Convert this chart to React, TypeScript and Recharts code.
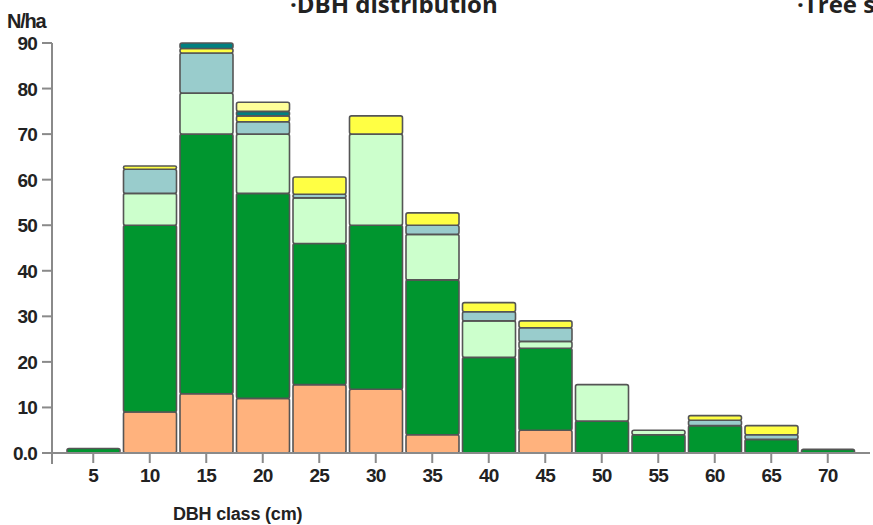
import React from "react";
import { BarChart, Bar, XAxis, YAxis } from "recharts";

const categories = ["5", "10", "15", "20", "25", "30", "35", "40", "45", "50", "55", "60", "65", "70"];
const peach = [0, 9, 13, 12, 15, 14, 4, 0, 5, 0, 0, 0, 0, 0];
const darkGreen = [1, 41, 57, 45, 31, 36, 34, 21, 18, 7, 4, 6, 3, 0.8];
const lightGreen = [0, 7, 9, 13, 10, 20, 10, 8, 1.5, 8, 1, 0, 0, 0];
const lightBlue = [0, 5.3, 8.8, 2.7, 0.8, 0, 2, 2, 3, 0, 0, 1.2, 1, 0];
const yellow = [0, 0.7, 1, 1.3, 3.8, 4, 2.7, 2, 1.5, 0, 0, 1, 2, 0];
const teal = [0, 0, 1.2, 1, 0, 0, 0, 0, 0, 0, 0, 0, 0, 0];
const paleYellow = [0, 0, 0, 2, 0, 0, 0, 0, 0, 0, 0, 0, 0, 0];
const yTicks = [0, 10, 20, 30, 40, 50, 60, 70, 80, 90];

const data = categories.map((c, i) => ({
  dbh: c,
  peach: peach[i],
  darkGreen: darkGreen[i],
  lightGreen: lightGreen[i],
  lightBlue: lightBlue[i],
  yellow: yellow[i],
  teal: teal[i],
  paleYellow: paleYellow[i],
}));

const series = [
  { key: "peach", color: "#FFB27D" },
  { key: "darkGreen", color: "#00962F" },
  { key: "lightGreen", color: "#CCFFCC" },
  { key: "lightBlue", color: "#99CCCC" },
  { key: "yellow", color: "#FFFF44" },
  { key: "teal", color: "#008080" },
  { key: "paleYellow", color: "#FFFF99" },
];

const font = "'Liberation Sans', Arial, sans-serif";
const axisColor = "#8a8a8a";

function YTick(props: any) {
  const { x, y, payload } = props;
  const v = payload.value;
  return (
    <g>
      <text x={x} y={y} dy={7} textAnchor="end" fontFamily={font} fontWeight={700} fontSize={19} fill="#222" letterSpacing={-0.8}>
        {v === 0 ? "0.0" : v}
      </text>
      {v === 0 && <line x1={x + 15} x2={x + 15} y1={y} y2={y + 11} stroke={axisColor} strokeWidth={2} />}
    </g>
  );
}

export default function App() {
  return (
    <div style={{ position: "fixed", left: 0, top: 0, width: 873, height: 525, background: "#fff", overflow: "hidden" }}>
      <BarChart
        width={873}
        height={525}
        data={data}
        margin={{ top: 43, right: 3, bottom: 0, left: 0 }}
        barCategoryGap={2}
      >
        <XAxis
          dataKey="dbh"
          height={72}
          padding={{ left: 13, right: 14 }}
          tickSize={10}
          tickMargin={6}
          axisLine={{ stroke: axisColor, strokeWidth: 2 }}
          tickLine={{ stroke: axisColor, strokeWidth: 2 }}
          tick={{ fontFamily: font, fontWeight: 700, fontSize: 19, fill: "#222", letterSpacing: -0.8 }}
          interval={0}
          label={{
            value: "DBH class (cm)",
            position: "insideBottomLeft",
            offset: 5,
            dx: 116,
            style: { fontFamily: font, fontWeight: 700, fontSize: 18, fill: "#222", letterSpacing: -0.2 },
          }}
        />
        <YAxis
          width={52}
          domain={[0, 90]}
          ticks={yTicks}
          interval={0}
          tickSize={10}
          tickMargin={5}
          axisLine={{ stroke: axisColor, strokeWidth: 2 }}
          tickLine={{ stroke: axisColor, strokeWidth: 2 }}
          tick={<YTick />}
        />
        {series.map((s) => (
          <Bar
            key={s.key}
            dataKey={s.key}
            stackId="a"
            fill={s.color}
            stroke="#555"
            strokeWidth={1.6}
            radius={2}
            isAnimationActive={false}
          />
        ))}
      </BarChart>
      <svg width={873} height={525} style={{ position: "absolute", left: 0, top: 0, pointerEvents: "none" }}>
        <text x={7} y={28} fontFamily={font} fontWeight={700} fontSize={20} fill="#222" letterSpacing={-1.2}>
          N/ha
        </text>
        <text x={290} y={13} fontFamily="'Open Sans', sans-serif" fontWeight={700} fontSize={24} fill="#222">
          {"·DBH distribution"}
        </text>
        <text x={797} y={13} fontFamily="'Open Sans', sans-serif" fontWeight={700} fontSize={24} fill="#222">
          {"·Tree species"}
        </text>
      </svg>
    </div>
  );
}
